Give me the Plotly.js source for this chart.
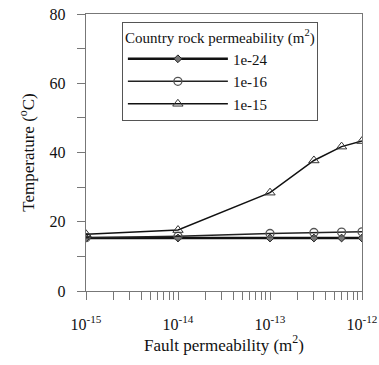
<!DOCTYPE html>
<html><head><meta charset="utf-8">
<script src="https://cdn.plot.ly/plotly-3.0.1.min.js"></script>
<style>html,body{margin:0;padding:0;background:#fff}#chart{width:379px;height:365px}</style>
</head><body><div id="chart"></div>
<script>
const faultPerm = [1e-15, 1e-14, 1e-13, 3e-13, 6e-13, 1e-12];
const seriesNames = ["1e-24", "1e-16", "1e-15"];
const temp_1e24 = [15.3, 15.3, 15.3, 15.3, 15.3, 15.3];
const temp_1e16 = [15.4, 15.8, 16.6, 16.9, 17.0, 17.1];
const temp_1e15 = [16.4, 17.6, 28.4, 37.7, 41.7, 43.3];
const xTickVals = [1e-15,2e-15,3e-15,4e-15,5e-15,6e-15,7e-15,8e-15,9e-15,
                   1e-14,2e-14,3e-14,4e-14,5e-14,6e-14,7e-14,8e-14,9e-14,
                   1e-13,2e-13,3e-13,4e-13,5e-13,6e-13,7e-13,8e-13,9e-13,1e-12];
const xTickText = ["10<sup>-15</sup>","","","","","","","","",
                   "10<sup>-14</sup>","","","","","","","","",
                   "10<sup>-13</sup>","","","","","","","","",
                   "10<sup>-12</sup>"];

const font = "Liberation Serif";
const traces = [
  {x: faultPerm, y: temp_1e24, name: seriesNames[0], mode: "lines+markers",
   line: {color: "#111", width: 2.5},
   marker: {symbol: "diamond", size: 6, color: "#777", line: {color: "#222", width: 1}}},
  {x: faultPerm, y: temp_1e16, name: seriesNames[1], mode: "lines+markers",
   line: {color: "#222", width: 1.5},
   marker: {symbol: "circle-open", size: 8, color: "#555", line: {width: 1.3}}},
  {x: faultPerm, y: temp_1e15, name: seriesNames[2], mode: "lines+markers",
   line: {color: "#111", width: 1.5},
   marker: {symbol: "triangle-up-open", size: 9, color: "#333", line: {width: 1}}}
];
const layout = {
  width: 379, height: 365,
  margin: {l: 86, r: 17, t: 14, b: 74},
  paper_bgcolor: "#fff", plot_bgcolor: "#fff",
  font: {family: font, size: 16, color: "#111"},
  showlegend: true,
  legend: {
    x: 0.13, y: 0.971, xanchor: "left", yanchor: "top",
    bordercolor: "#555", borderwidth: 1, bgcolor: "#fff",
    font: {family: font, size: 15, color: "#111"},
    title: {text: "Country rock permeability (m<sup>2</sup>)", side: "top center", font: {family: font, size: 15}},
    itemwidth: 100, tracegroupgap: 0
  },
  xaxis: {
    type: "log", range: [-15, -12],
    tickmode: "array", tickvals: xTickVals, ticktext: xTickText,
    ticks: "outside", ticklen: 8, tickcolor: "#777", tickwidth: 1,
    showgrid: false, zeroline: false,
    showline: true, linecolor: "#777", linewidth: 1.3, mirror: true,
    tickfont: {family: font, size: 16, color: "#111"},
    ticklabelstandoff: 10,
    title: {text: "Fault permeability (m<sup>2</sup>)", font: {family: font, size: 17, color: "#111"}, standoff: 6}
  },
  yaxis: {
    range: [0, 80], dtick: 20,
    ticks: "outside", ticklen: 8, tickcolor: "#777",
    minor: {ticks: "outside", ticklen: 8, tickcolor: "#777", dtick: 10},
    showgrid: false, zeroline: false,
    showline: true, linecolor: "#777", linewidth: 1.3, mirror: true,
    tickfont: {family: font, size: 16, color: "#111"},
    ticklabelstandoff: 8,
    title: {text: "Temperature (<sup>o</sup>C)", font: {family: font, size: 17, color: "#111"}, standoff: 10}
  }
};
Plotly.newPlot("chart", traces, layout, {displayModeBar: false, staticPlot: true});
</script></body></html>
